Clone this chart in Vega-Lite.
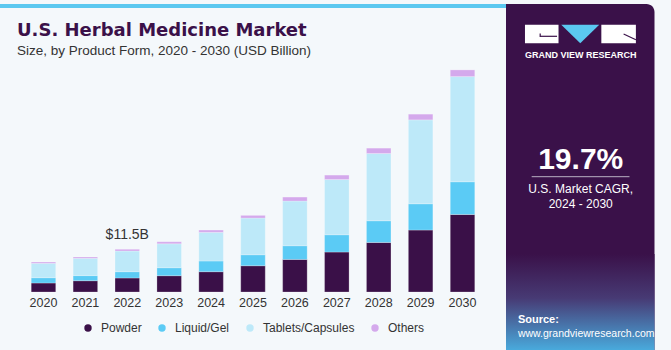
{
  "$schema": "https://vega.github.io/schema/vega-lite/v6.json",
  "background": "#f4f8fb",
  "padding": 0,
  "spacing": 0,
  "config": {"view": {"stroke": null}, "font": "Liberation Sans"},
  "hconcat": [
    {
      "spacing": 11,
      "vconcat": [
        {
          "width": 506,
          "height": 4,
          "view": {"fill": "#5bc8f0", "stroke": null},
          "data": {"values": [{}]},
          "mark": {"type": "text", "text": ""}
        },
        {
          "width": 506,
          "height": 230,
          "title": {
            "text": "U.S. Herbal Medicine Market",
            "subtitle": "Size, by Product Form, 2020 - 2030 (USD Billion)",
            "anchor": "start",
            "dx": 17,
            "fontSize": 18,
            "fontWeight": "bold",
            "color": "#3b1149",
            "subtitleFontSize": 13.5,
            "subtitleColor": "#333333",
            "subtitlePadding": 4,
            "offset": 4.5,
            "font": "DejaVu Sans",
            "subtitleFont": "Liberation Sans"
          },
          "data": {
            "values": [
              {"year": "2020", "segment": "Powder", "value": 2.42},
              {"year": "2020", "segment": "Liquid/Gel", "value": 1.43},
              {"year": "2020", "segment": "Tablets/Capsules", "value": 3.88},
              {"year": "2020", "segment": "Others", "value": 0.35},
              {"year": "2021", "segment": "Powder", "value": 3.04},
              {"year": "2021", "segment": "Liquid/Gel", "value": 1.38},
              {"year": "2021", "segment": "Tablets/Capsules", "value": 4.66},
              {"year": "2021", "segment": "Others", "value": 0.36},
              {"year": "2022", "segment": "Powder", "value": 3.77},
              {"year": "2022", "segment": "Liquid/Gel", "value": 1.70},
              {"year": "2022", "segment": "Tablets/Capsules", "value": 5.57},
              {"year": "2022", "segment": "Others", "value": 0.46},
              {"year": "2023", "segment": "Powder", "value": 4.39},
              {"year": "2023", "segment": "Liquid/Gel", "value": 2.15},
              {"year": "2023", "segment": "Tablets/Capsules", "value": 6.46},
              {"year": "2023", "segment": "Others", "value": 0.54},
              {"year": "2024", "segment": "Powder", "value": 5.47},
              {"year": "2024", "segment": "Liquid/Gel", "value": 2.88},
              {"year": "2024", "segment": "Tablets/Capsules", "value": 7.73},
              {"year": "2024", "segment": "Others", "value": 0.62},
              {"year": "2025", "segment": "Powder", "value": 7.08},
              {"year": "2025", "segment": "Liquid/Gel", "value": 2.96},
              {"year": "2025", "segment": "Tablets/Capsules", "value": 9.88},
              {"year": "2025", "segment": "Others", "value": 0.73},
              {"year": "2026", "segment": "Powder", "value": 8.78},
              {"year": "2026", "segment": "Liquid/Gel", "value": 3.69},
              {"year": "2026", "segment": "Tablets/Capsules", "value": 12.04},
              {"year": "2026", "segment": "Others", "value": 1.08},
              {"year": "2027", "segment": "Powder", "value": 10.77},
              {"year": "2027", "segment": "Liquid/Gel", "value": 4.66},
              {"year": "2027", "segment": "Tablets/Capsules", "value": 14.89},
              {"year": "2027", "segment": "Others", "value": 1.19},
              {"year": "2028", "segment": "Powder", "value": 13.36},
              {"year": "2028", "segment": "Liquid/Gel", "value": 5.84},
              {"year": "2028", "segment": "Tablets/Capsules", "value": 18.13},
              {"year": "2028", "segment": "Others", "value": 1.45},
              {"year": "2029", "segment": "Powder", "value": 16.70},
              {"year": "2029", "segment": "Liquid/Gel", "value": 7.08},
              {"year": "2029", "segment": "Tablets/Capsules", "value": 22.62},
              {"year": "2029", "segment": "Others", "value": 1.54},
              {"year": "2030", "segment": "Powder", "value": 20.90},
              {"year": "2030", "segment": "Liquid/Gel", "value": 8.81},
              {"year": "2030", "segment": "Tablets/Capsules", "value": 28.36},
              {"year": "2030", "segment": "Others", "value": 1.80}
            ]
          },
          "layer": [
            {
              "transform": [
                {"calculate": "indexof(['Powder','Liquid/Gel','Tablets/Capsules','Others'], datum.segment)", "as": "stackOrder"}
              ],
              "mark": {"type": "bar", "stroke": "#ffffff", "strokeOpacity": 0.3, "strokeWidth": 0.8},
              "encoding": {
                "x": {
                  "field": "year",
                  "type": "nominal",
                  "scale": {"paddingInner": 0.415, "paddingOuter": 0.745},
                  "axis": {
                    "title": null,
                    "labelAngle": 0,
                    "ticks": false,
                    "domain": false,
                    "labelFontSize": 12.5,
                    "labelColor": "#333333",
                    "labelPadding": 4,
                    "labelFont": "Liberation Sans"
                  }
                },
                "y": {
                  "field": "value",
                  "type": "quantitative",
                  "stack": "zero",
                  "scale": {"domain": [0, 62], "nice": false},
                  "axis": null
                },
                "order": {"field": "stackOrder", "type": "quantitative"},
                "color": {
                  "field": "segment",
                  "type": "nominal",
                  "sort": ["Powder", "Liquid/Gel", "Tablets/Capsules", "Others"],
                  "scale": {
                    "domain": ["Powder", "Liquid/Gel", "Tablets/Capsules", "Others"],
                    "range": ["#3a1048", "#5bcbf5", "#bde9f9", "#d4a9ec"]
                  },
                  "legend": {
                    "title": null,
                    "orient": "none",
                    "direction": "horizontal",
                    "legendX": 82,
                    "legendY": 318,
                    "symbolType": "circle",
                    "symbolSize": 55,
                    "symbolStrokeWidth": 0,
                    "labelFontSize": 12,
                    "labelColor": "#333333",
                    "labelOffset": 7,
                    "columnPadding": 14,
                    "padding": 0,
                    "labelFont": "Liberation Sans"
                  }
                }
              }
            },
            {
              "data": {"values": [{"year": "2022", "total": 11.5, "label": "$11.5B"}]},
              "mark": {"type": "text", "fontSize": 14, "color": "#333333", "baseline": "alphabetic", "dy": -10, "font": "Liberation Sans"},
              "encoding": {
                "x": {"field": "year", "type": "nominal"},
                "y": {"field": "total", "type": "quantitative"},
                "text": {"field": "label"}
              }
            }
          ]
        }
      ]
    },
    {
      "width": 165,
      "height": 350,
      "layer": [
        {
          "data": {"values": [{}]},
          "mark": {"type": "rect", "color": "#3a1149", "cornerRadiusTopRight": 8},
          "encoding": {
            "x": {"datum": 0, "type": "quantitative", "scale": {"domain": [0, 165]}, "axis": null},
            "x2": {"datum": 162},
            "y": {"datum": 0, "type": "quantitative", "scale": {"domain": [0, 350], "reverse": true}, "axis": null},
            "y2": {"datum": 348}
          }
        },
        {
          "data": {"values": [{}]},
          "mark": {
            "type": "rect",
            "color": {
              "gradient": "linear",
              "x1": 0, "y1": 0, "x2": 0, "y2": 1,
              "stops": [
                {"offset": 0, "color": "#3a1149"},
                {"offset": 0.45, "color": "#473a74"},
                {"offset": 1, "color": "#49aee0"}
              ]
            }
          },
          "encoding": {
            "x": {"datum": 0, "type": "quantitative"},
            "x2": {"datum": 162},
            "y": {"datum": 250, "type": "quantitative"},
            "y2": {"datum": 348}
          }
        },
        {
          "data": {"values": [{}]},
          "mark": {"type": "rect", "color": "#ffffff"},
          "encoding": {
            "x": {"datum": 20.7, "type": "quantitative"},
            "x2": {"datum": 57.3},
            "y": {"datum": 20.7, "type": "quantitative"},
            "y2": {"datum": 39.3}
          }
        },
        {
          "data": {"values": [{}]},
          "mark": {"type": "rect", "color": "#ffffff"},
          "encoding": {
            "x": {"datum": 104, "type": "quantitative"},
            "x2": {"datum": 141.7},
            "y": {"datum": 20.7, "type": "quantitative"},
            "y2": {"datum": 39.3}
          }
        },
        {
          "data": {"values": [{}]},
          "mark": {"type": "point", "shape": "M-1,-0.49L1,-0.49L0,0.49Z", "size": 1444, "filled": true, "color": "#5bc8f0", "opacity": 1, "strokeWidth": 0},
          "encoding": {
            "x": {"datum": 81, "type": "quantitative"},
            "y": {"datum": 30, "type": "quantitative"}
          }
        },
        {
          "data": {"values": [{}]},
          "mark": {"type": "rule", "color": "#3a1149", "strokeWidth": 1.2},
          "encoding": {
            "x": {"datum": 37.3, "type": "quantitative"},
            "x2": {"datum": 55.7},
            "y": {"datum": 32.3, "type": "quantitative"},
            "y2": {"datum": 32.3}
          }
        },
        {
          "data": {"values": [{}]},
          "mark": {"type": "rule", "color": "#3a1149", "strokeWidth": 1.2},
          "encoding": {
            "x": {"datum": 37.3, "type": "quantitative"},
            "x2": {"datum": 37.3},
            "y": {"datum": 29.5, "type": "quantitative"},
            "y2": {"datum": 33}
          }
        },
        {
          "data": {"values": [{}]},
          "mark": {"type": "rule", "color": "#3a1149", "strokeWidth": 1.2},
          "encoding": {
            "x": {"datum": 128.3, "type": "quantitative"},
            "x2": {"datum": 141.7},
            "y": {"datum": 30, "type": "quantitative"},
            "y2": {"datum": 35.7}
          }
        },
        {
          "data": {"values": [{"t": "GRAND VIEW RESEARCH"}]},
          "mark": {"type": "text", "color": "#ffffff", "fontSize": 9, "fontWeight": "bold", "align": "center", "baseline": "alphabetic", "font": "Liberation Sans"},
          "encoding": {
            "x": {"datum": 81.5, "type": "quantitative"},
            "y": {"datum": 53.5, "type": "quantitative"},
            "text": {"field": "t"}
          }
        },
        {
          "data": {"values": [{"t": "19.7%"}]},
          "mark": {"type": "text", "color": "#ffffff", "fontSize": 30, "fontWeight": "bold", "align": "center", "baseline": "alphabetic", "font": "Liberation Sans"},
          "encoding": {
            "x": {"datum": 81.5, "type": "quantitative"},
            "y": {"datum": 165, "type": "quantitative"},
            "text": {"field": "t"}
          }
        },
        {
          "data": {"values": [{}]},
          "mark": {"type": "rule", "color": "#b9b0c4", "strokeWidth": 1},
          "encoding": {
            "x": {"datum": 28, "type": "quantitative"},
            "x2": {"datum": 134.7},
            "y": {"datum": 172.7, "type": "quantitative"},
            "y2": {"datum": 172.7}
          }
        },
        {
          "data": {"values": [{"t": "U.S. Market CAGR,"}]},
          "mark": {"type": "text", "color": "#ffffff", "fontSize": 12, "align": "center", "baseline": "alphabetic", "font": "Liberation Sans"},
          "encoding": {
            "x": {"datum": 81.5, "type": "quantitative"},
            "y": {"datum": 189, "type": "quantitative"},
            "text": {"field": "t"}
          }
        },
        {
          "data": {"values": [{"t": "2024 - 2030"}]},
          "mark": {"type": "text", "color": "#ffffff", "fontSize": 12, "align": "center", "baseline": "alphabetic", "font": "Liberation Sans"},
          "encoding": {
            "x": {"datum": 81.5, "type": "quantitative"},
            "y": {"datum": 203.5, "type": "quantitative"},
            "text": {"field": "t"}
          }
        },
        {
          "data": {"values": [{"t": "Source:"}]},
          "mark": {"type": "text", "color": "#ffffff", "fontSize": 11, "fontWeight": "bold", "align": "left", "baseline": "alphabetic", "font": "Liberation Sans"},
          "encoding": {
            "x": {"datum": 13, "type": "quantitative"},
            "y": {"datum": 319, "type": "quantitative"},
            "text": {"field": "t"}
          }
        },
        {
          "data": {"values": [{"t": "www.grandviewresearch.com"}]},
          "mark": {"type": "text", "color": "#ffffff", "fontSize": 10.5, "align": "left", "baseline": "alphabetic", "font": "Liberation Sans"},
          "encoding": {
            "x": {"datum": 13, "type": "quantitative"},
            "y": {"datum": 332.5, "type": "quantitative"},
            "text": {"field": "t"}
          }
        }
      ]
    }
  ]
}
